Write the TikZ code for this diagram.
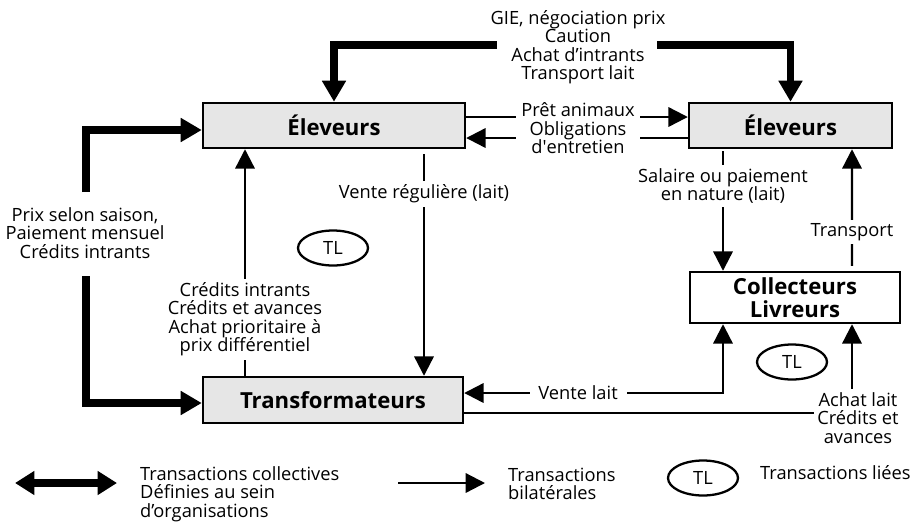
\documentclass[tikz,border=0pt]{standalone}
\usepackage{fontspec}
\setmainfont{Open Sans}
\usepackage{tikz}
\usetikzlibrary{arrows.meta, calc, positioning, shapes.geometric}
\definecolor{boxgray}{RGB}{230,230,230}

\begin{document}
\begin{tikzpicture}[x=0.02cm, y=-0.02cm, font=\fontsize{10.4}{10.5}\selectfont,
  box/.style={draw, line width=1.4pt, fill=boxgray, align=center, inner sep=0pt,
    font=\fontsize{12.6}{13}\selectfont\bfseries},
  lbl/.style={align=center, fill=white, inner sep=2pt},
  arr/.style={line width=1.3pt, -{Triangle[length=11pt, width=11pt]}},
  arrboth/.style={line width=1.3pt, {Triangle[length=11pt, width=11pt]}-{Triangle[length=11pt, width=11pt]}},
  bigarr/.style={line width=4.4pt, -{Triangle[length=12pt, width=13pt]}},
  tl/.style={draw, ellipse, line width=1.3pt, minimum width=1.4cm, minimum height=0.7cm, inner sep=0pt}]
\useasboundingbox (0,0) rectangle (913,522);

\node[box, minimum width=5.24cm, minimum height=0.9cm] (E1) at (334,125.5) {Éleveurs};
\node[box, minimum width=4.06cm, minimum height=0.9cm] (E2) at (790.5,125.5) {Éleveurs};
\node[box, minimum width=5.2cm, minimum height=0.92cm] (T) at (333,400) {Transformateurs};
\node[box, fill=white, minimum width=4.2cm, minimum height=1.02cm] (C) at (795,297.5) {Collecteurs\\Livreurs};

% transactions collectives
\node[align=center] (gie) at (578,47) {GIE, négociation prix\\Caution\\Achat d’intrants\\Transport lait};
\coordinate (gl) at (497,45);
\coordinate (gr) at (657,45);
\draw[bigarr] (gl) -| (E1.north);
\draw[bigarr] (gr) -| (E2.north);

\node[align=center] (prix) at (85,233) {Prix selon saison,\\Paiement mensuel\\Crédits intrants};
\coordinate (pt) at (86,192);
\coordinate (pb) at (86,276);
\draw[bigarr] (pt) |- ($(E1.west)+(0,4.5)$);
\draw[bigarr] (pb) |- ($(T.west)+(0,3)$);

% transactions bilaterales
\draw[arr] ($(E1.east)+(0,-8.5)$) -- ($(E2.west)+(0,-8.5)$);
\draw[arr] ($(E2.west)+(0,12.5)$) -- ($(E1.east)+(0,12.5)$);
\node[lbl, inner xsep=3pt] (pret) at (578,128.5) {Prêt animaux\\Obligations\\d\textquotesingle entretien};

\draw[arr] ($(E1.south)+(90,5)$) -- ($(T.north)+(91,0)$)
  node[lbl, pos=0.18] (vente) {Vente régulière (lait)};
\draw[arr] ($(T.north)+(-88,0)$) -- ($(E1.south)+(-89,0)$)
  node[lbl, pos=0.25] (cred) {Crédits intrants\\Crédits et avances\\Achat prioritaire à\\prix différentiel};
\draw[arr] ($(E2.south)+(-67.5,2)$) -- ($(C.north)+(-72,0)$)
  node[lbl, pos=0.29] (sal) {Salaire ou paiement\\en nature (lait)};
\draw[arr] ($(C.north)+(57,-5)$) -- ($(E2.south)+(61.5,0)$)
  node[lbl, pos=0.29] (transp) {Transport};
\draw[arrboth] ($(T.east)+(0,-7)$) -| ($(C.south)+(-72,0)$)
  node[lbl, inner xsep=5pt, pos=0.22] (vlait) {Vente lait};
\draw[arr] ($(T.east)+(0,13)$) -| ($(C.south)+(57,0)$);
\node[lbl] (achat) at (858,418) {Achat lait\\Crédits et\\avances};

% transactions liees
\node[tl] (tl1) at (333,248) {TL};
\node[tl] (tl2) at (792,362) {TL};

% legende
\coordinate (l1a) at (15,483);
\coordinate (l1b) at (117,483);
\draw[line width=4.4pt, {Triangle[length=11pt, width=13pt]}-{Triangle[length=11pt, width=13pt]}] (l1a) -- (l1b);
\node[anchor=west, align=left] (leg1) at (134,494) {Transactions collectives\\Définies au sein\\d’organisations};
\coordinate (l2a) at (398,483);
\coordinate (l2b) at (485,483);
\draw[arr] (l2a) -- (l2b);
\node[anchor=west, align=left] (leg2) at (502,484) {Transactions\\bilatérales};
\node[tl] (tl3) at (703,478) {TL};
\node[anchor=west] (leg3) at (754,473) {Transactions liées};
\end{tikzpicture}
\end{document}
